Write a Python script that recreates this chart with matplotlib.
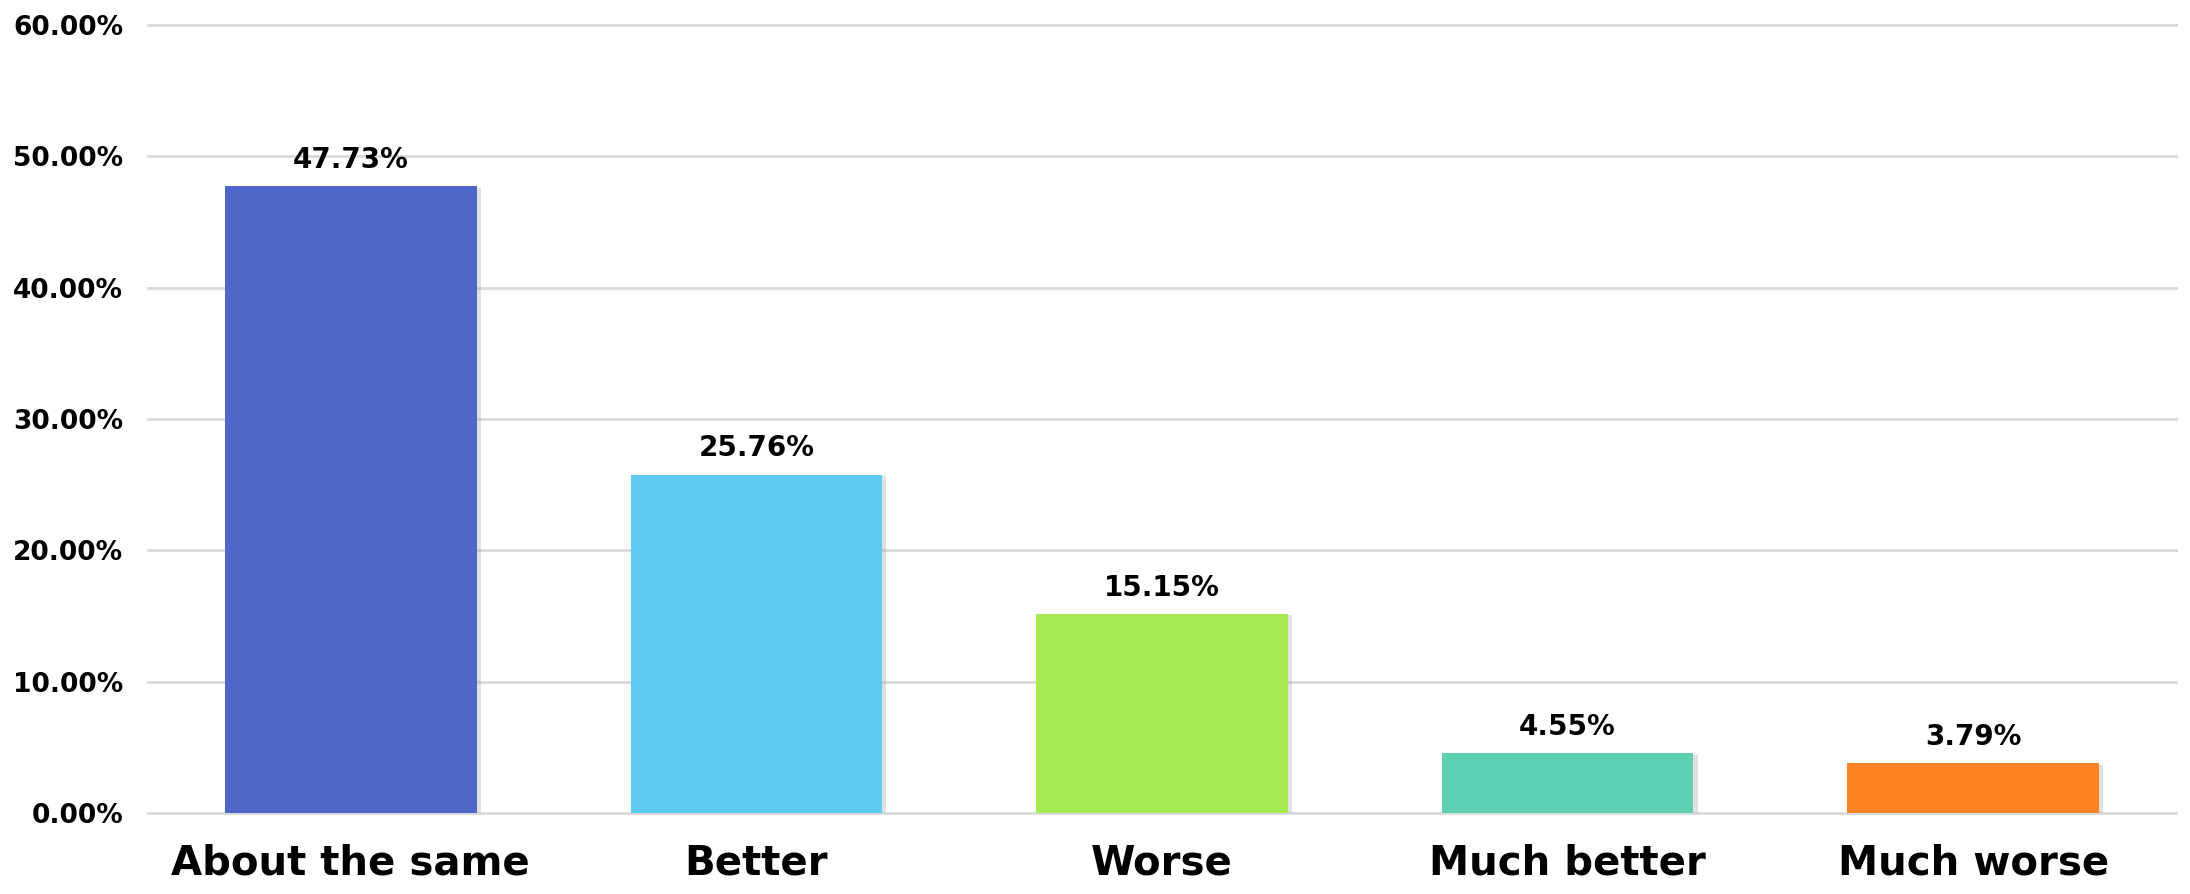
import matplotlib
matplotlib.use("Agg")
import matplotlib.pyplot as plt
import matplotlib.patheffects as pe
from matplotlib.ticker import FuncFormatter

categories = ["About the same", "Better", "Worse", "Much better", "Much worse"]
values = [47.73, 25.76, 15.15, 4.55, 3.79]
colors = ["#4F67C8", "#5FCBF2", "#A8EA52", "#5ECFB1", "#FE8325"]

plt.rcParams['font.family'] = ['DejaVu Sans']

fig = plt.figure(figsize=(21.9, 8.94), dpi=100)
ax = fig.add_axes([0.0676, 0.0906, 0.926, 0.8814])

x = range(len(categories))
bars = ax.bar(x, values, width=0.62, color=colors, zorder=3)
for b in bars:
    b.set_path_effects([pe.SimplePatchShadow(offset=(3, -1), shadow_rgbFace='#9a9a9a', alpha=0.3),
                        pe.Normal()])

for xi, v in zip(x, values):
    ax.annotate('{:.2f}%'.format(v), (xi, v), xytext=(0, 9), textcoords='offset points',
                ha='center', va='bottom', fontsize=20, fontweight='bold', zorder=4)

ax.set_xlim(-0.5, len(categories) - 0.5)
ax.set_ylim(0, 60)
ax.set_yticks([0, 10, 20, 30, 40, 50, 60])
ax.yaxis.set_major_formatter(FuncFormatter(lambda v, p: '{:.2f}%'.format(v)))
ax.grid(axis='y', color='#D9D9D9', linewidth=2, zorder=0)
for gl in ax.get_ygridlines():
    gl.set_clip_on(False)
ax.set_xticks(list(x))
ax.set_xticklabels(categories)

for s in ax.spines.values():
    s.set_visible(False)
ax.tick_params(axis='y', length=0, pad=18, labelsize=19)
ax.tick_params(axis='x', length=0, pad=22, labelsize=29)
for lab in ax.get_yticklabels() + ax.get_xticklabels():
    lab.set_fontweight('bold')

fig.savefig('out.png', dpi=100, facecolor='white')
